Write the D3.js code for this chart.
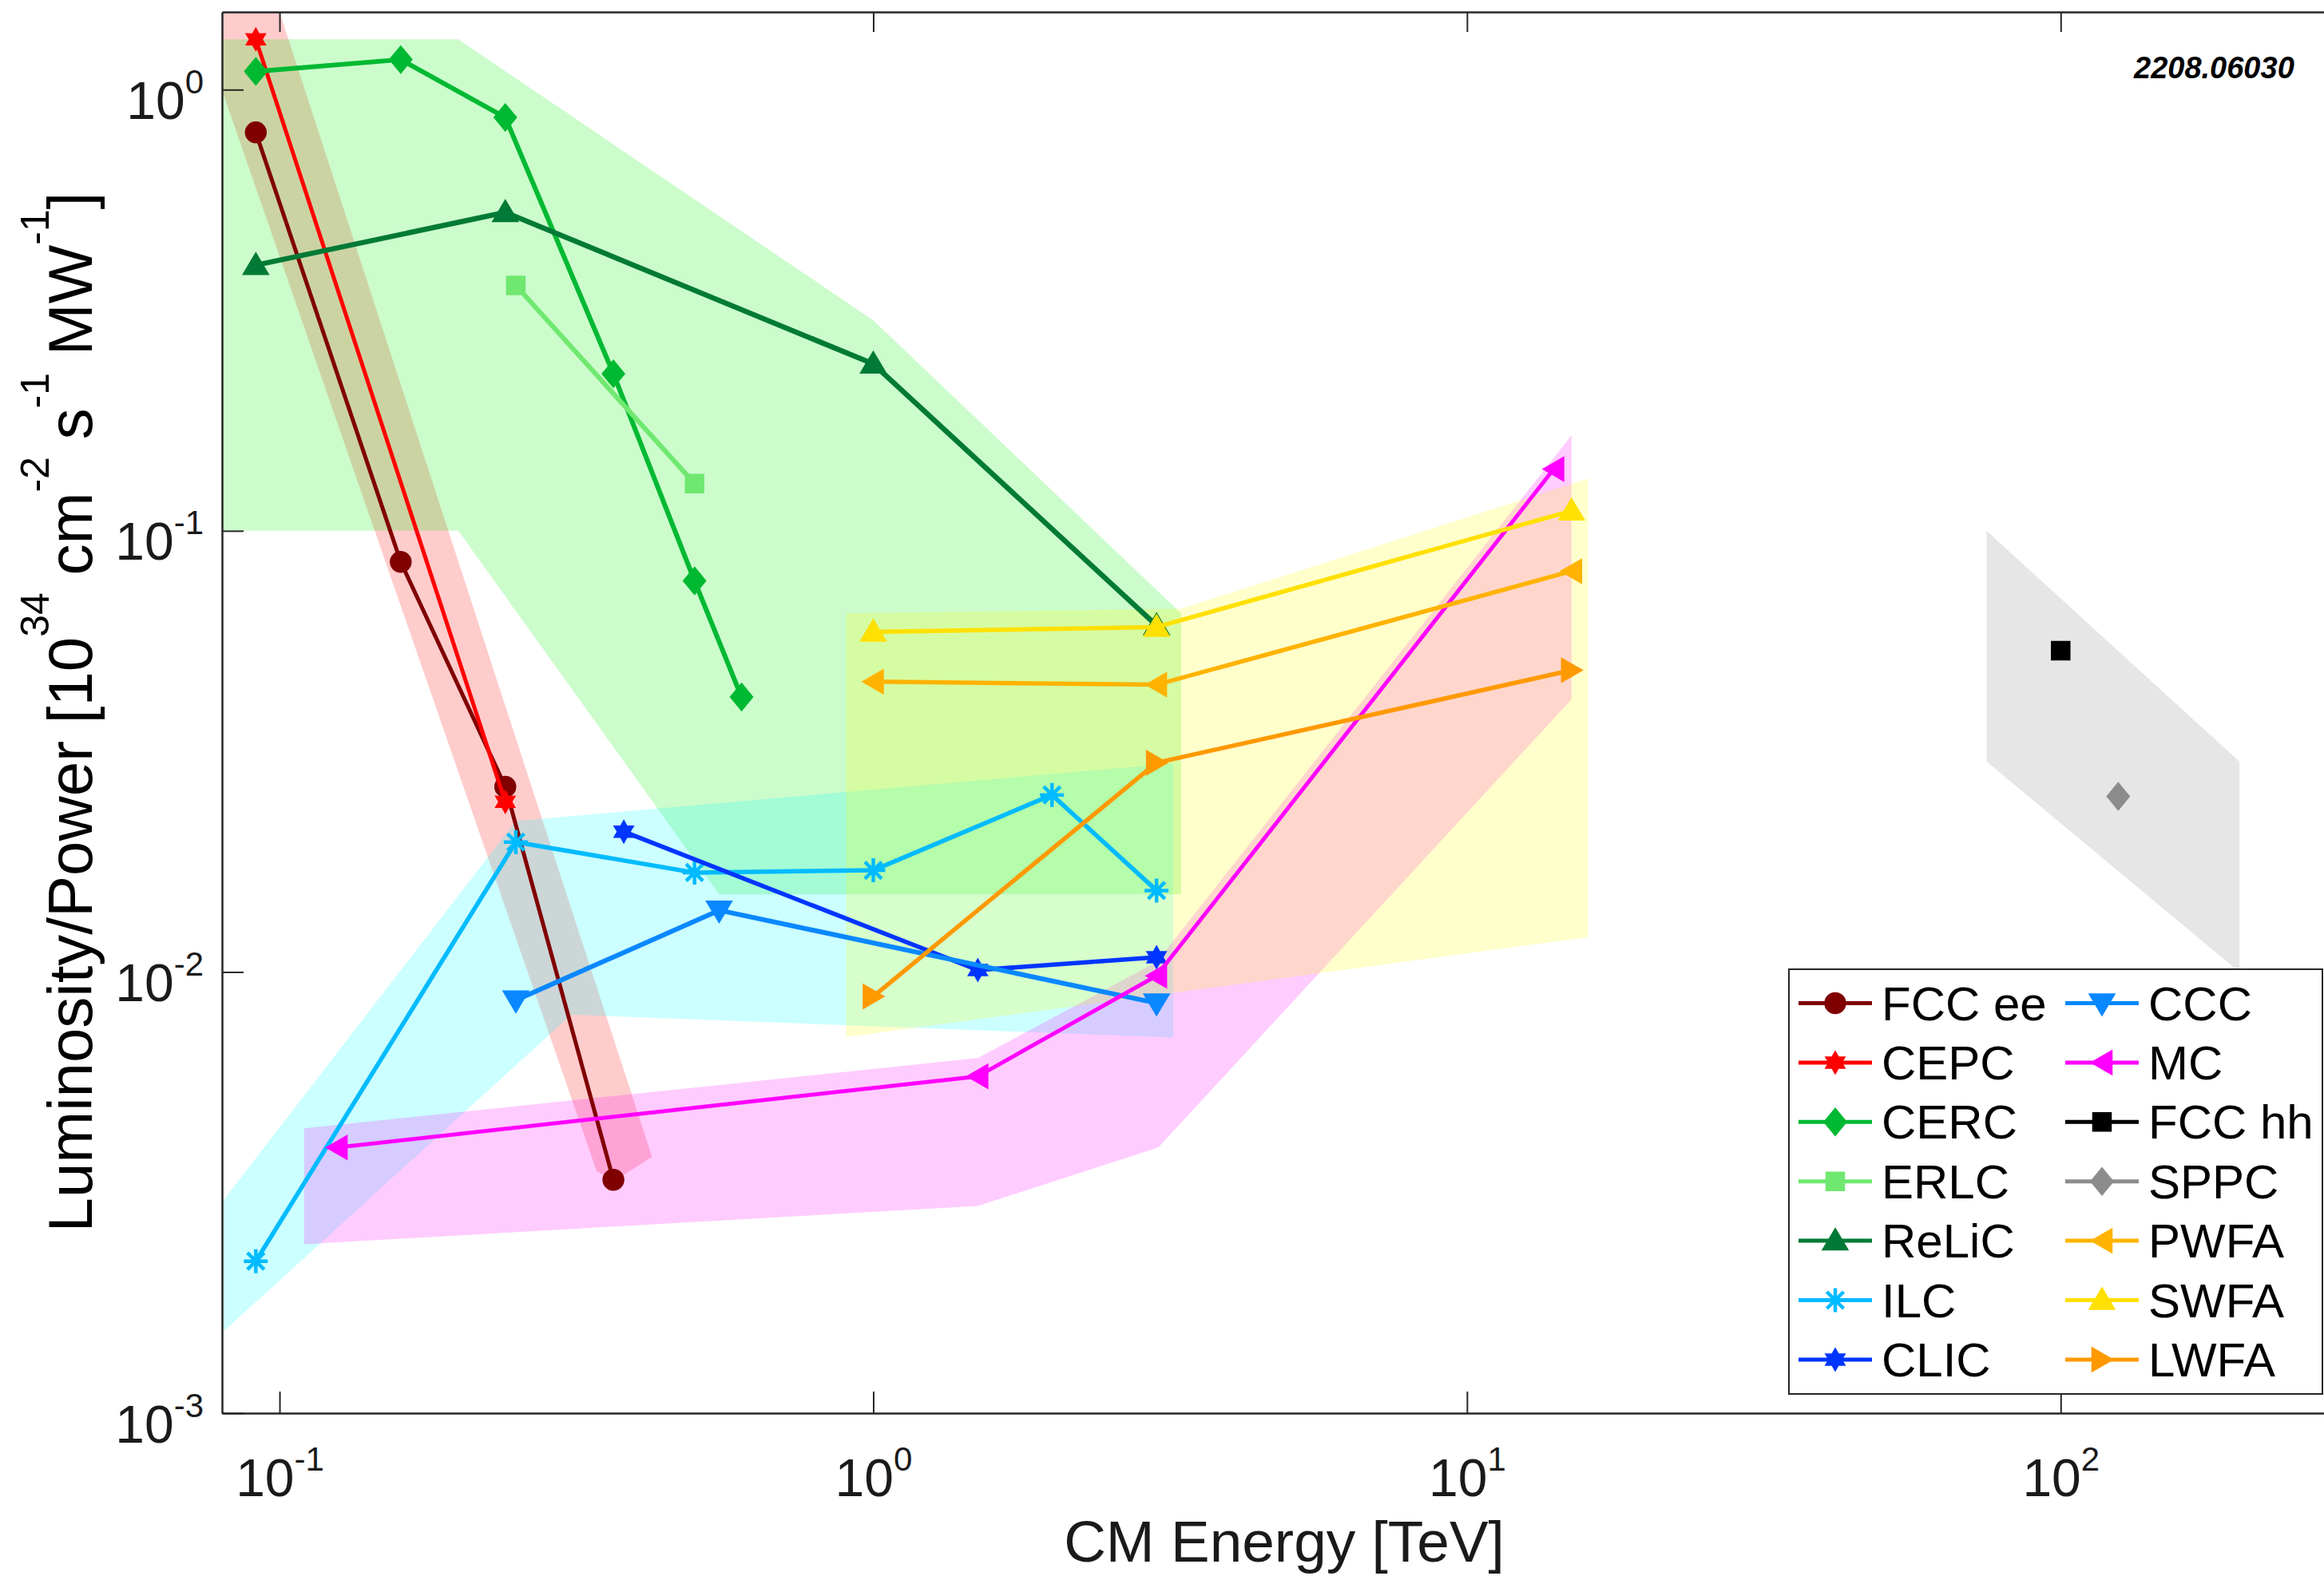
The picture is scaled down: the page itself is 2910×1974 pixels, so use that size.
<!DOCTYPE html>
<html>
<head>
<meta charset="utf-8">
<script src="https://cdn.jsdelivr.net/npm/d3@7"></script>
<style>
  html, body { margin: 0; padding: 0; background: #fff; }
  svg { display: block; font-family: "Liberation Sans", Arial, Helvetica, sans-serif; }
</style>
</head>
<body>
<div id="chart"></div>
<script>
// each point: [CM energy in TeV, luminosity/power in 1e34 cm^-2 s^-1 MW^-1]
const fccEE = [[0.0912, 0.80], [0.16, 0.085], [0.24, 0.0263], [0.365, 0.00338]];
const cepc  = [[0.0912, 1.30], [0.24, 0.0243]];
const cerc  = [[0.0912, 1.10], [0.16, 1.17], [0.24, 0.865], [0.365, 0.227], [0.5, 0.077], [0.6, 0.042]];
const erlc  = [[0.25, 0.36], [0.5, 0.128]];
const relic = [[0.0912, 0.40], [0.24, 0.527], [1, 0.239], [3, 0.061]];
const ilc   = [[0.0912, 0.00221], [0.25, 0.0197], [0.5, 0.0168], [1, 0.0170], [2, 0.0252], [3, 0.0153]];
const clic  = [[0.38, 0.0208], [1.5, 0.0101], [3, 0.0108]];
const ccc   = [[0.25, 0.00863], [0.55, 0.0138], [3, 0.0085]];
const mc    = [[0.125, 0.0040], [1.5, 0.0058], [3, 0.0098], [14, 0.138]];
const fccHH = [[100, 0.0535]];
const sppc  = [[125, 0.025]];
const pwfa  = [[1, 0.0455], [3, 0.0448], [15, 0.081]];
const swfa  = [[1, 0.059], [3, 0.0605], [15, 0.111]];
const lwfa  = [[1, 0.0088], [3, 0.0298], [15, 0.0483]];

const seriesNames = ["FCC ee", "CEPC", "CERC", "ERLC", "ReLiC", "ILC", "CLIC",
                     "CCC", "MC", "FCC hh", "SPPC", "PWFA", "SWFA", "LWFA"];
const seriesData = [fccEE, cepc, cerc, erlc, relic, ilc, clic, ccc, mc, fccHH, sppc, pwfa, swfa, lwfa];

// shaded regions, polygon corners in the same units
const redBand     = [[0.072, 1.5], [0.1, 1.5], [0.424, 0.00381], [0.365, 0.00335], [0.342, 0.00354]];
const greenBand   = [[0.07, 1.3], [0.2, 1.3], [1, 0.3], [3.3, 0.065], [3.3, 0.015], [0.55, 0.015], [0.2, 0.1], [0.07, 0.1]];
const cyanBand    = [[0.0713, 0.00246], [0.25, 0.022], [3.2, 0.0297], [3.2, 0.0071], [0.31, 0.008], [0.0713, 0.00132]];
const magentaBand = [[0.11, 0.00442], [1.5, 0.00638], [3, 0.01053], [15, 0.1647], [15, 0.0415], [3.02, 0.004], [1.5, 0.00295], [0.11, 0.002415]];
const yellowBand  = [[0.9, 0.065], [3.3, 0.0666], [16, 0.1313], [16, 0.012], [0.9, 0.00712]];
const grayBand    = [[75, 0.1], [200, 0.03], [200, 0.01], [75, 0.03]];

const xTicks = [0.1, 1, 10, 100];
const yTicks = [0.001, 0.01, 0.1, 1];

// styles
const seriesColors = ["#800000", "#ff0000", "#00b932", "#70e870", "#007a36", "#00bbff", "#0035ff",
                      "#0a88ff", "#ff00ff", "#000000", "#8c8c8c", "#ffb300", "#ffe000", "#ff9900"];
const seriesMarkers = ["o", "h", "d", "s", "^", "*", "h", "v", "<", "s", "d", "<", "^", ">"];
const seriesWidths = [5, 5, 6, 6, 6.5, 5.5, 5.5, 6, 5, 5, 5, 5.5, 5.5, 5.5];
const bands = [
  [redBand, "rgba(255,0,0,0.2)"],
  [greenBand, "rgba(0,240,0,0.2)"],
  [cyanBand, "rgba(0,255,255,0.2)"],
  [magentaBand, "rgba(255,0,255,0.2)"],
  [yellowBand, "rgba(255,255,0,0.2)"],
  [grayBand, "rgba(128,128,128,0.2)"]
];

const W = 2910, H = 1974;
const pLeft = 278, pRight = 2935, pTop = 15, pBottom = 1770;

const x = d3.scaleLog().domain([0.08, 300]).range([pLeft, pRight]);
const y = d3.scaleLog().domain([1e-3, 1.5]).range([pBottom, pTop]);

const svg = d3.select("#chart").append("svg")
  .attr("width", W)
  .attr("height", H);

svg.append("defs").append("clipPath").attr("id", "plotclip")
  .append("rect")
  .attr("x", pLeft).attr("y", pTop)
  .attr("width", pRight - pLeft).attr("height", pBottom - pTop);

// bands
svg.append("g").attr("clip-path", "url(#plotclip)")
  .selectAll("path")
  .data(bands)
  .enter().append("path")
  .attr("d", d => "M" + d[0].map(p => x(p[0]) + "," + y(p[1])).join("L") + "Z")
  .attr("fill", d => d[1]);

function markerPath(m) {
  if (m == "o") return d3.symbol(d3.symbolCircle, Math.PI * 13 * 13)();
  if (m == "h") {
    let pts = [];
    for (let k = 0; k < 12; k++) {
      const a = -Math.PI / 2 + k * Math.PI / 6, r = k % 2 ? 8 : 14;
      pts.push((r * Math.cos(a)).toFixed(2) + "," + (r * Math.sin(a)).toFixed(2));
    }
    return "M" + pts.join("L") + "Z";
  }
  if (m == "d") return "M0,-17L14,0L0,17L-14,0Z";
  if (m == "s") return "M-11.5,-11.5H11.5V11.5H-11.5Z";
  if (m == "^") return "M0,-15.5L16,11.5L-16,11.5Z";
  if (m == "v") return "M0,15.5L16,-11.5L-16,-11.5Z";
  if (m == "<") return "M-13.5,0L12.5,-15L12.5,15Z";
  if (m == ">") return "M13.5,0L-12.5,-15L-12.5,15Z";
  if (m == "*") return "M0,-15V15M-15,0H15M-10.5,-10.5L10.5,10.5M-10.5,10.5L10.5,-10.5";
  return "";
}

function drawMarker(g, m, color, px, py) {
  const p = g.append("path")
    .attr("d", markerPath(m))
    .attr("transform", "translate(" + px + "," + py + ")");
  if (m == "*") {
    p.attr("fill", "none").attr("stroke", color).attr("stroke-width", 4.5);
  } else {
    p.attr("fill", color).attr("stroke", color).attr("stroke-width", 1.5);
  }
}

// lines + markers
const line = d3.line().x(d => x(d[0])).y(d => y(d[1]));

seriesData.forEach(function (data, i) {
  const g = svg.append("g");
  if (data.length > 1) {
    g.append("path")
      .attr("d", line(data))
      .attr("fill", "none")
      .attr("stroke", seriesColors[i])
      .attr("stroke-width", seriesWidths[i])
      .attr("stroke-linejoin", "round");
  }
  data.forEach(function (p) {
    drawMarker(g, seriesMarkers[i], seriesColors[i], x(p[0]), y(p[1]));
  });
});

// axes
const axisColor = "#262626";
const gBottom = svg.append("g").attr("transform", "translate(0," + pBottom + ")")
  .call(d3.axisBottom(x).tickValues(xTicks).tickSizeInner(-27).tickSizeOuter(0).tickFormat(""));
const gTop = svg.append("g").attr("transform", "translate(0," + pTop + ")")
  .call(d3.axisTop(x).tickValues(xTicks).tickSizeInner(-25).tickSizeOuter(0).tickFormat(""));
const gLeft = svg.append("g").attr("transform", "translate(" + pLeft + ",0)")
  .call(d3.axisLeft(y).tickValues(yTicks).tickSizeInner(-27).tickSizeOuter(0).tickFormat(""));

[gBottom, gTop, gLeft].forEach(function (g) {
  g.selectAll(".domain").attr("stroke", axisColor).attr("stroke-width", 2.5);
  g.selectAll(".tick line").attr("stroke", axisColor).attr("stroke-width", 2);
  g.selectAll(".tick text").remove();
});

function powerLabel(sel) {
  sel.append("tspan").text("10");
  sel.append("tspan")
    .attr("font-size", 42)
    .attr("dy", -32)
    .text(d => Math.round(Math.log10(d)));
}

gBottom.selectAll(".tick").append("text")
  .attr("x", 0)
  .attr("y", 104)
  .attr("text-anchor", "middle")
  .attr("font-size", 66)
  .attr("fill", "#1a1a1a")
  .call(powerLabel);

gLeft.selectAll(".tick").append("text")
  .attr("x", -23)
  .attr("y", 36)
  .attr("text-anchor", "end")
  .attr("font-size", 66)
  .attr("fill", "#1a1a1a")
  .call(powerLabel);

// axis titles
svg.append("text")
  .attr("x", 1608)
  .attr("y", 1956)
  .attr("text-anchor", "middle")
  .attr("font-size", 73)
  .attr("fill", "#1a1a1a")
  .text("CM Energy [TeV]");

const yl = svg.append("text")
  .attr("transform", "translate(115,892) rotate(-90)")
  .attr("text-anchor", "middle")
  .attr("font-size", 78)
  .attr("fill", "#000");
const ylParts = [["Luminosity/Power [10", false], ["34", true], [" cm", false], ["-2", true],
                 [" s", false], ["-1", true], [" MW", false], ["-1", true], ["]", false]];
let raised = false;
ylParts.forEach(function (p) {
  const t = yl.append("tspan").text(p[0]);
  if (p[1] && !raised) { t.attr("dy", -54).attr("font-size", 50); raised = true; }
  else if (p[1]) { t.attr("font-size", 50); }
  else if (raised) { t.attr("dy", 54); raised = false; }
});

// arXiv tag
svg.append("text")
  .attr("x", 2672)
  .attr("y", 98)
  .attr("font-size", 38)
  .attr("font-weight", "bold")
  .attr("font-style", "italic")
  .attr("fill", "#000")
  .text("2208.06030");

// legend
const lg = svg.append("g");
lg.append("rect")
  .attr("x", 2240).attr("y", 1214)
  .attr("width", 668).attr("height", 532)
  .attr("fill", "#fff")
  .attr("stroke", axisColor)
  .attr("stroke-width", 2);

seriesNames.forEach(function (name, i) {
  const col = i < 7 ? 0 : 1, row = i % 7;
  const x0 = col ? 2586 : 2252;
  const yy = 1256.5 + row * 74.4;
  lg.append("line")
    .attr("x1", x0).attr("x2", x0 + 92)
    .attr("y1", yy).attr("y2", yy)
    .attr("stroke", seriesColors[i])
    .attr("stroke-width", 5);
  drawMarker(lg, seriesMarkers[i], seriesColors[i], x0 + 46, yy);
  lg.append("text")
    .attr("x", x0 + 104)
    .attr("y", yy + 21)
    .attr("font-size", 60)
    .attr("fill", "#000")
    .text(name);
});
</script>
</body>
</html>
